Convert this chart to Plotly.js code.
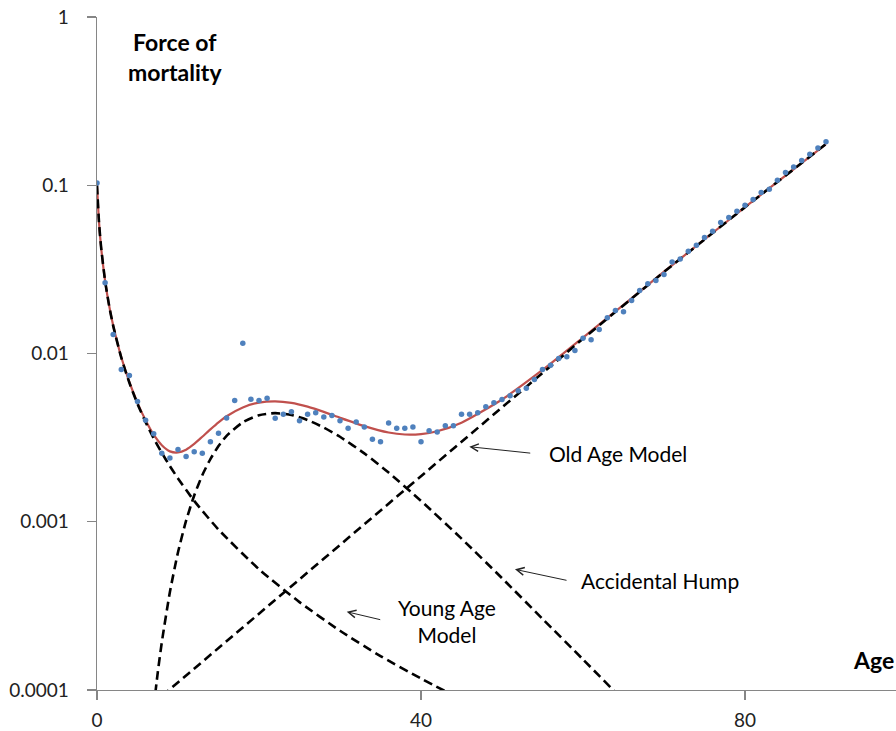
<!DOCTYPE html>
<html>
<head>
<meta charset="utf-8">
<script src="https://cdn.plot.ly/plotly-3.0.1.min.js"></script>
<style>html,body{margin:0;padding:0;background:#fff;}#chart{width:896px;height:731px;}</style>
</head>
<body>
<div id="chart"></div>
<script>
// Observed force of mortality (dots), ages 0..90
const dotAges = [0,1,2,3,4,5,6,7,8,9,10,11,12,13,14,15,16,17,18,19,20,21,22,23,24,25,26,27,28,29,30,31,32,33,34,35,36,37,38,39,40,41,42,43,44,45,46,47,48,49,50,51,52,53,54,55,56,57,58,59,60,61,62,63,64,65,66,67,68,69,70,71,72,73,74,75,76,77,78,79,80,81,82,83,84,85,86,87,88,89,90];
const dotMu = [0.103,0.0263,0.01297,0.00804,0.00741,0.00518,0.00401,0.00333,0.00255,0.00239,0.00269,0.00244,0.00261,0.00255,0.00299,0.00336,0.00414,0.00525,0.0115,0.00535,0.00525,0.00542,0.00412,0.00436,0.0045,0.00399,0.00436,0.00444,0.0042,0.00428,0.00399,0.00359,0.00392,0.00366,0.00309,0.00299,0.00386,0.00359,0.00359,0.00366,0.00299,0.00348,0.00342,0.00372,0.00372,0.00436,0.00436,0.00444,0.00482,0.00509,0.00532,0.0056,0.006,0.00621,0.007,0.00804,0.00851,0.00933,0.00955,0.01042,0.01233,0.01205,0.0139,0.0163,0.018,0.0177,0.02065,0.0237,0.026,0.0272,0.0295,0.035,0.0365,0.0405,0.044,0.0489,0.0532,0.06,0.0643,0.07,0.076,0.0822,0.0904,0.0946,0.1072,0.1189,0.1285,0.1403,0.1531,0.1667,0.1811];

// Fitted total curve (red)
const fitAges = [0,0.25,0.5,1,1.5,2,3,4,5,6,7,8,9,10,11,12,13,14,15,16,18,20,22,24,26,28,30,33,36,38,40,42,45,50,55,60,65,70,75,80,85,90];
const fitMu = [0.1,0.0601,0.0431,0.02705,0.01925,0.01465,0.0095,0.00676,0.00509,0.00401,0.00329,0.00285,0.00262,0.00258,0.00268,0.0029,0.0032,0.00354,0.0039,0.00424,0.00478,0.00511,0.0052,0.00509,0.00483,0.0045,0.00415,0.0037,0.00339,0.0033,0.00332,0.00345,0.00388,0.00533,0.00798,0.01244,0.01946,0.03063,0.04765,0.07413,0.11423,0.1758];

// Young age model
const youngAges = [0,0.25,0.5,1,1.5,2,3,4,5,6,7,8,9,10,12,15,20,25,30,35,40,44];
const youngMu = [0.1,0.0601,0.0431,0.027,0.0192,0.0146,0.00944,0.0067,0.00502,0.00391,0.00313,0.00257,0.00214,0.00181,0.00133,0.000899,0.000522,0.000333,0.000225,0.000159,0.000117,0.0000929];

// Accidental hump
const humpAges = [6.8,7.5,8,9,10,11,12,13,14,15,16,18,20,22,24,26,28,30,33,36,40,45,50,55,60,65];
const humpMu = [0.0000648,0.000127,0.000192,0.000382,0.000658,0.001014,0.001433,0.001892,0.00236,0.00282,0.00324,0.0039,0.0043,0.00442,0.00431,0.00402,0.00363,0.0032,0.00255,0.00196,0.00133,0.000794,0.000462,0.000265,0.000152,0.0000866];

// Old age model
const oldAges = [8,20,30,40,50,60,70,80,90];
const oldMu = [0.0000919,0.000284,0.000729,0.00187,0.0048,0.01225,0.03055,0.0741,0.1758];

const xTicks = [0,40,80];
const yTicks = [0.0001,0.001,0.01,0.1,1];
const yTickText = ['0.0001','0.001','0.01','0.1','1'];

const FONT = 'Lato, "Open Sans", sans-serif';
const dashStyle = {color:'#000000', width:2.6, dash:'9px,5px', shape:'spline', smoothing:0.6};

const traces = [
  {x:fitAges, y:fitMu, mode:'lines', line:{color:'#C0504D', width:2.2, shape:'spline', smoothing:0.6}, hoverinfo:'skip'},
  {x:youngAges, y:youngMu, mode:'lines', line:dashStyle, hoverinfo:'skip'},
  {x:humpAges, y:humpMu, mode:'lines', line:dashStyle, hoverinfo:'skip'},
  {x:oldAges, y:oldMu, mode:'lines', line:Object.assign({}, dashStyle, {shape:'linear'}), hoverinfo:'skip'},
  {x:dotAges, y:dotMu, mode:'markers', marker:{color:'#4F81BD', size:5.5}, hoverinfo:'skip'}
];

const arrowStyle = {showarrow:true, text:'', arrowhead:5, arrowsize:1.5, arrowwidth:1, arrowcolor:'#222222', axref:'x', ayref:'y', xref:'x', yref:'y'};
const labelFont = {family:FONT, size:21, color:'#000000'};

const annotations = [
  {xref:'x', yref:'y', x:9.63, y:-0.238, text:'<b>Force of<br>mortality</b>', showarrow:false, xanchor:'center', yanchor:'middle', font:{family:FONT, size:23, color:'#000'}},
  {xref:'paper', yref:'y', x:1, y:-3.822, text:'<b>Age</b>', showarrow:false, xanchor:'right', yanchor:'middle', font:{family:FONT, size:23, color:'#000'}},
  {xref:'x', yref:'y', x:55.6, y:-2.593, text:'Old Age Model', showarrow:false, xanchor:'left', yanchor:'middle', font:labelFont},
  {xref:'x', yref:'y', x:59.5, y:-3.35, text:'Accidental Hump', showarrow:false, xanchor:'left', yanchor:'middle', font:labelFont},
  {xref:'x', yref:'y', x:43.27, y:-3.59, text:'Young Age<br>Model', showarrow:false, xanchor:'center', yanchor:'middle', align:'center', font:labelFont},
  Object.assign({x:45.96, y:-2.554, ax:53.67, ay:-2.593}, arrowStyle),
  Object.assign({x:51.6, y:-3.283, ax:58.15, ay:-3.35}, arrowStyle),
  Object.assign({x:30.83, y:-3.535, ax:35.15, ay:-3.584}, arrowStyle)
];

const layout = {
  width:896, height:731,
  margin:{l:97, r:0, t:17, b:41, pad:0},
  paper_bgcolor:'#ffffff', plot_bgcolor:'#ffffff',
  showlegend:false,
  font:{family:FONT, size:19, color:'#222'},
  xaxis:{range:[0,98.64], showgrid:false, zeroline:false, showline:true, linecolor:'#868686', linewidth:1.3,
         ticks:'outside', ticklen:9, tickcolor:'#868686', tickwidth:1.3, tickvals:xTicks, ticktext:xTicks.map(String),
         tickfont:{family:FONT, size:19, color:'#222'}, ticklabelstandoff:4},
  yaxis:{type:'log', range:[-4,0], showgrid:false, zeroline:false, showline:true, linecolor:'#868686', linewidth:1.3,
         ticks:'outside', ticklen:9, tickcolor:'#868686', tickwidth:1.3, tickvals:yTicks, ticktext:yTickText,
         tickfont:{family:FONT, size:19, color:'#222'}, ticklabelstandoff:14},
  annotations:annotations
};

Plotly.newPlot('chart', traces, layout, {staticPlot:true, displayModeBar:false});
</script>
</body>
</html>
